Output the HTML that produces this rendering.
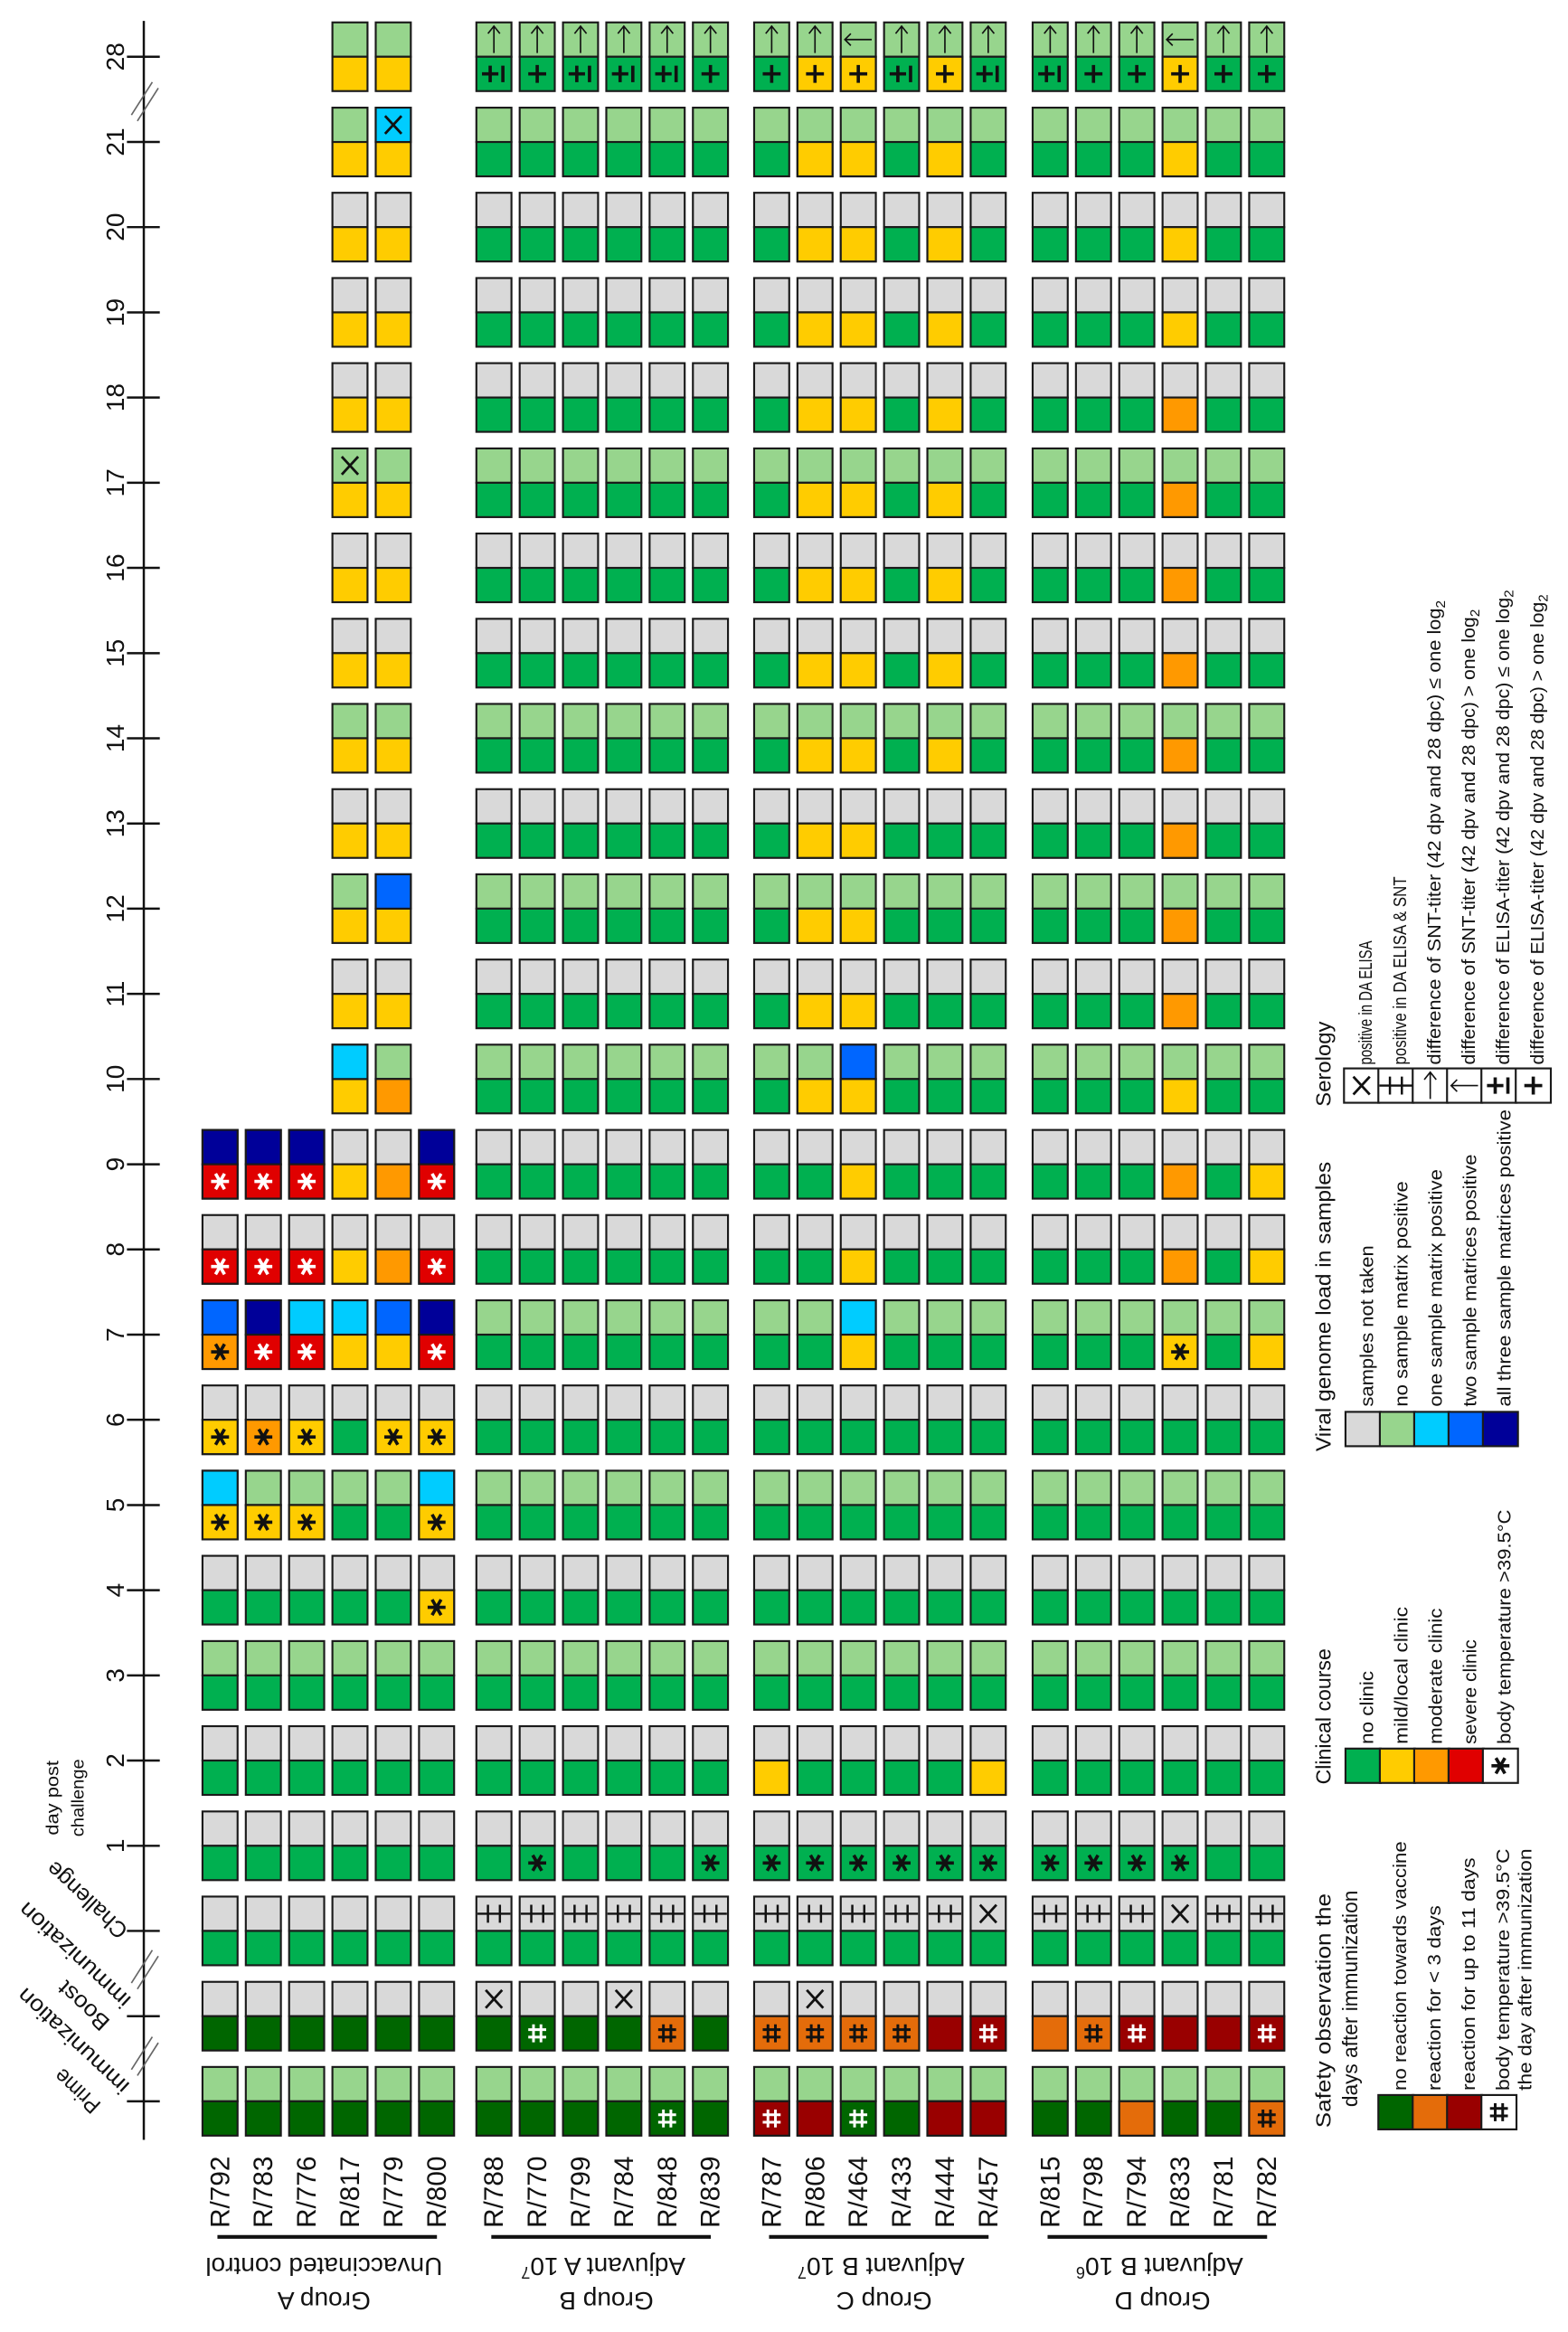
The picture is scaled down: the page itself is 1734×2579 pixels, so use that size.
<!DOCTYPE html>
<html><head><meta charset="utf-8"><style>
html,body{margin:0;padding:0;background:#fff}
svg{display:block}
.k{stroke:#1a1a1a;stroke-width:1.3}
.c{width:23.5px;height:23px}
text{font-family:"Liberation Sans",Arial,sans-serif;fill:#111}
.lg{font-size:12.5px}
.tt{font-size:14px}
</style></head><body>
<svg width="1734" height="2579" viewBox="0 0 1050 1561.7" preserveAspectRatio="none" xmlns="http://www.w3.org/2000/svg">
<defs>
<g id="T6"><rect class="k c" x="0" y="0"/><rect class="k c" x="29" y="0"/><rect class="k c" x="58" y="0"/><rect class="k c" x="87" y="0"/><rect class="k c" x="116" y="0"/><rect class="k c" x="145" y="0"/></g>
<g id="T2"><rect class="k c" x="0" y="0"/><rect class="k c" x="29" y="0"/></g>
<g id="sX" stroke="#111" stroke-width="1.7" fill="none"><path d="M-5.5,-6L5.5,6M5.5,-6L-5.5,6"/></g>
<g id="sDD" stroke="#111" stroke-width="1.5" fill="none"><path d="M-11,0H11M-4,-6V6M4,-6V6"/></g>
<g id="sUp" stroke="#111" stroke-width="1" fill="none"><path d="M0,9V-9M-4,-4L0,-9L4,-4"/></g>
<g id="sLf" stroke="#111" stroke-width="1" fill="none"><path d="M9,0H-9M-5,-4L-9,0L-5,4"/></g>
<g id="sPM" stroke="#111" stroke-width="2.2" fill="none"><path d="M-8,0H3M-2.5,-5.5V5.5M6,-5.5V5.5"/></g>
<g id="sP" stroke="#111" stroke-width="2.2" fill="none"><path d="M-6,0H6M0,-6V6"/></g>
<g id="sA" stroke="currentColor" stroke-width="2.2" fill="none"><path d="M-6,0H6M-3,-5.2L3,5.2M3,-5.2L-3,5.2"/></g>
<g id="sH" stroke="currentColor" stroke-width="1.8" fill="none"><path d="M-6,-2.5H6M-6,2.5H6M-2.5,-6V6M2.5,-6V6"/></g>
</defs>

<!-- axis -->
<line x1="96.3" y1="14" x2="96.3" y2="1433" stroke="#111" stroke-width="1.5"/>
<g stroke="#111" stroke-width="1.5">
<line x1="85" x2="107" y1="38" y2="38"/><line x1="85" x2="107" y1="95.1" y2="95.1"/><line x1="85" x2="107" y1="152.1" y2="152.1"/><line x1="85" x2="107" y1="209.2" y2="209.2"/><line x1="85" x2="107" y1="266.2" y2="266.2"/><line x1="85" x2="107" y1="323.3" y2="323.3"/><line x1="85" x2="107" y1="380.3" y2="380.3"/><line x1="85" x2="107" y1="437.4" y2="437.4"/><line x1="85" x2="107" y1="494.4" y2="494.4"/><line x1="85" x2="107" y1="551.5" y2="551.5"/><line x1="85" x2="107" y1="608.5" y2="608.5"/><line x1="85" x2="107" y1="665.6" y2="665.6"/><line x1="85" x2="107" y1="722.6" y2="722.6"/><line x1="85" x2="107" y1="779.7" y2="779.7"/><line x1="85" x2="107" y1="836.7" y2="836.7"/><line x1="85" x2="107" y1="893.8" y2="893.8"/><line x1="85" x2="107" y1="950.8" y2="950.8"/><line x1="85" x2="107" y1="1007.9" y2="1007.9"/><line x1="85" x2="107" y1="1064.9" y2="1064.9"/><line x1="85" x2="107" y1="1122" y2="1122"/><line x1="85" x2="107" y1="1179" y2="1179"/><line x1="85" x2="107" y1="1236.1" y2="1236.1"/><line x1="85" x2="107" y1="1293.1" y2="1293.1"/><line x1="85" x2="107" y1="1350.2" y2="1350.2"/><line x1="85" x2="107" y1="1407.2" y2="1407.2"/>
</g>
<g stroke="#666" stroke-width="1">
<line x1="88" y1="77" x2="102" y2="55"/><line x1="92" y1="81" x2="106" y2="59"/>
<line x1="88" y1="1328" x2="102" y2="1306"/><line x1="92" y1="1332" x2="106" y2="1310"/>
<line x1="88" y1="1386" x2="102" y2="1364"/><line x1="92" y1="1390" x2="106" y2="1368"/>
</g>
<g font-size="17" text-anchor="middle">
<text transform="translate(83,38) rotate(-90)">28</text>
<text transform="translate(83,95.1) rotate(-90)">21</text>
<text transform="translate(83,152.1) rotate(-90)">20</text>
<text transform="translate(83,209.2) rotate(-90)">19</text>
<text transform="translate(83,266.2) rotate(-90)">18</text>
<text transform="translate(83,323.3) rotate(-90)">17</text>
<text transform="translate(83,380.3) rotate(-90)">16</text>
<text transform="translate(83,437.4) rotate(-90)">15</text>
<text transform="translate(83,494.4) rotate(-90)">14</text>
<text transform="translate(83,551.5) rotate(-90)">13</text>
<text transform="translate(83,608.5) rotate(-90)">12</text>
<text transform="translate(83,665.6) rotate(-90)">11</text>
<text transform="translate(83,722.6) rotate(-90)">10</text>
<text transform="translate(83,779.7) rotate(-90)">9</text>
<text transform="translate(83,836.7) rotate(-90)">8</text>
<text transform="translate(83,893.8) rotate(-90)">7</text>
<text transform="translate(83,950.8) rotate(-90)">6</text>
<text transform="translate(83,1007.9) rotate(-90)">5</text>
<text transform="translate(83,1064.9) rotate(-90)">4</text>
<text transform="translate(83,1122) rotate(-90)">3</text>
<text transform="translate(83,1179) rotate(-90)">2</text>
<text transform="translate(83,1236.1) rotate(-90)">1</text>
</g>
<g font-size="12" text-anchor="middle" fill="#222">
<text transform="translate(39,1204) rotate(-90)" textLength="50" lengthAdjust="spacingAndGlyphs">day post</text>
<text transform="translate(56,1204) rotate(-90)" textLength="52" lengthAdjust="spacingAndGlyphs">challenge</text>
</g>
<g font-size="15">
<text transform="translate(86.5,1291.9) rotate(-137)" textLength="68" lengthAdjust="spacingAndGlyphs">Challenge</text>
<text transform="translate(88.5,1338.4) rotate(-137)" textLength="96" lengthAdjust="spacingAndGlyphs">immunization</text>
<text transform="translate(74.4,1353.5) rotate(-137)" textLength="41" lengthAdjust="spacingAndGlyphs">Boost</text>
<text transform="translate(87.5,1395.9) rotate(-137)" textLength="96" lengthAdjust="spacingAndGlyphs">immunization</text>
<text transform="translate(68.3,1408.9) rotate(-137)" textLength="36" lengthAdjust="spacingAndGlyphs">Prime</text>
</g>

<!-- ROW 0 day 28 -->
<use href="#T2" x="222.6" y="15" fill="#97d58d"/><use href="#T2" x="222.6" y="38" fill="#ffcc00"/>
<use href="#T6" x="319" y="15" fill="#97d58d"/><use href="#T6" x="319" y="38" fill="#00b050"/>
<use href="#T6" x="505" y="15" fill="#97d58d"/><use href="#T6" x="505" y="38" fill="#00b050"/>
<use href="#T6" x="691.5" y="15" fill="#97d58d"/><use href="#T6" x="691.5" y="38" fill="#00b050"/>
<rect class="k c" x="534" y="38" fill="#ffcc00"/><rect class="k c" x="563" y="38" fill="#ffcc00"/><rect class="k c" x="621" y="38" fill="#ffcc00"/><rect class="k c" x="778.5" y="38" fill="#ffcc00"/>
<use href="#sUp" x="330.75" y="26.5"/><use href="#sUp" x="359.75" y="26.5"/><use href="#sUp" x="388.75" y="26.5"/><use href="#sUp" x="417.75" y="26.5"/><use href="#sUp" x="446.75" y="26.5"/><use href="#sUp" x="475.75" y="26.5"/>
<use href="#sUp" x="516.75" y="26.5"/><use href="#sUp" x="545.75" y="26.5"/><use href="#sLf" x="574.75" y="26.5"/><use href="#sUp" x="603.75" y="26.5"/><use href="#sUp" x="632.75" y="26.5"/><use href="#sUp" x="661.75" y="26.5"/>
<use href="#sUp" x="703.25" y="26.5"/><use href="#sUp" x="732.25" y="26.5"/><use href="#sUp" x="761.25" y="26.5"/><use href="#sLf" x="790.25" y="26.5"/><use href="#sUp" x="819.25" y="26.5"/><use href="#sUp" x="848.25" y="26.5"/>
<use href="#sPM" x="330.75" y="49.5"/><use href="#sP" x="359.75" y="49.5"/><use href="#sPM" x="388.75" y="49.5"/><use href="#sPM" x="417.75" y="49.5"/><use href="#sPM" x="446.75" y="49.5"/><use href="#sP" x="475.75" y="49.5"/>
<use href="#sP" x="516.75" y="49.5"/><use href="#sP" x="545.75" y="49.5"/><use href="#sP" x="574.75" y="49.5"/><use href="#sPM" x="603.75" y="49.5"/><use href="#sP" x="632.75" y="49.5"/><use href="#sPM" x="661.75" y="49.5"/>
<use href="#sPM" x="703.25" y="49.5"/><use href="#sP" x="732.25" y="49.5"/><use href="#sP" x="761.25" y="49.5"/><use href="#sP" x="790.25" y="49.5"/><use href="#sP" x="819.25" y="49.5"/><use href="#sP" x="848.25" y="49.5"/>

<!-- ROW 1 day 21 -->
<use href="#T2" x="222.6" y="72.1" fill="#97d58d"/><use href="#T2" x="222.6" y="95.1" fill="#ffcc00"/>
<rect class="k c" x="251.6" y="72.1" fill="#00ccff"/><use href="#sX" x="263.35" y="83.6"/>
<use href="#T6" x="319" y="72.1" fill="#97d58d"/><use href="#T6" x="319" y="95.1" fill="#00b050"/>
<use href="#T6" x="505" y="72.1" fill="#97d58d"/><use href="#T6" x="505" y="95.1" fill="#00b050"/>
<use href="#T6" x="691.5" y="72.1" fill="#97d58d"/><use href="#T6" x="691.5" y="95.1" fill="#00b050"/>
<rect class="k c" x="534" y="95.1" fill="#ffcc00"/><rect class="k c" x="563" y="95.1" fill="#ffcc00"/><rect class="k c" x="621" y="95.1" fill="#ffcc00"/><rect class="k c" x="778.5" y="95.1" fill="#ffcc00"/>

<!-- ROW 2 day 20 -->
<use href="#T2" x="222.6" y="129.1" fill="#d9d9d9"/><use href="#T2" x="222.6" y="152.1" fill="#ffcc00"/>
<use href="#T6" x="319" y="129.1" fill="#d9d9d9"/><use href="#T6" x="319" y="152.1" fill="#00b050"/>
<use href="#T6" x="505" y="129.1" fill="#d9d9d9"/><use href="#T6" x="505" y="152.1" fill="#00b050"/>
<use href="#T6" x="691.5" y="129.1" fill="#d9d9d9"/><use href="#T6" x="691.5" y="152.1" fill="#00b050"/>
<rect class="k c" x="534" y="152.1" fill="#ffcc00"/><rect class="k c" x="563" y="152.1" fill="#ffcc00"/><rect class="k c" x="621" y="152.1" fill="#ffcc00"/><rect class="k c" x="778.5" y="152.1" fill="#ffcc00"/>

<!-- ROW 3 day 19 -->
<use href="#T2" x="222.6" y="186.2" fill="#d9d9d9"/><use href="#T2" x="222.6" y="209.2" fill="#ffcc00"/>
<use href="#T6" x="319" y="186.2" fill="#d9d9d9"/><use href="#T6" x="319" y="209.2" fill="#00b050"/>
<use href="#T6" x="505" y="186.2" fill="#d9d9d9"/><use href="#T6" x="505" y="209.2" fill="#00b050"/>
<use href="#T6" x="691.5" y="186.2" fill="#d9d9d9"/><use href="#T6" x="691.5" y="209.2" fill="#00b050"/>
<rect class="k c" x="534" y="209.2" fill="#ffcc00"/><rect class="k c" x="563" y="209.2" fill="#ffcc00"/><rect class="k c" x="621" y="209.2" fill="#ffcc00"/><rect class="k c" x="778.5" y="209.2" fill="#ffcc00"/>

<!-- ROW 4 day 18 -->
<use href="#T2" x="222.6" y="243.2" fill="#d9d9d9"/><use href="#T2" x="222.6" y="266.2" fill="#ffcc00"/>
<use href="#T6" x="319" y="243.2" fill="#d9d9d9"/><use href="#T6" x="319" y="266.2" fill="#00b050"/>
<use href="#T6" x="505" y="243.2" fill="#d9d9d9"/><use href="#T6" x="505" y="266.2" fill="#00b050"/>
<use href="#T6" x="691.5" y="243.2" fill="#d9d9d9"/><use href="#T6" x="691.5" y="266.2" fill="#00b050"/>
<rect class="k c" x="534" y="266.2" fill="#ffcc00"/><rect class="k c" x="563" y="266.2" fill="#ffcc00"/><rect class="k c" x="621" y="266.2" fill="#ffcc00"/><rect class="k c" x="778.5" y="266.2" fill="#ff9900"/>

<!-- ROW 5 day 17 -->
<use href="#T2" x="222.6" y="300.3" fill="#97d58d"/><use href="#T2" x="222.6" y="323.3" fill="#ffcc00"/>
<use href="#sX" x="234.35" y="311.8"/>
<use href="#T6" x="319" y="300.3" fill="#97d58d"/><use href="#T6" x="319" y="323.3" fill="#00b050"/>
<use href="#T6" x="505" y="300.3" fill="#97d58d"/><use href="#T6" x="505" y="323.3" fill="#00b050"/>
<use href="#T6" x="691.5" y="300.3" fill="#97d58d"/><use href="#T6" x="691.5" y="323.3" fill="#00b050"/>
<rect class="k c" x="534" y="323.3" fill="#ffcc00"/><rect class="k c" x="563" y="323.3" fill="#ffcc00"/><rect class="k c" x="621" y="323.3" fill="#ffcc00"/><rect class="k c" x="778.5" y="323.3" fill="#ff9900"/>

<!-- ROW 6 day 16 -->
<use href="#T2" x="222.6" y="357.3" fill="#d9d9d9"/><use href="#T2" x="222.6" y="380.3" fill="#ffcc00"/>
<use href="#T6" x="319" y="357.3" fill="#d9d9d9"/><use href="#T6" x="319" y="380.3" fill="#00b050"/>
<use href="#T6" x="505" y="357.3" fill="#d9d9d9"/><use href="#T6" x="505" y="380.3" fill="#00b050"/>
<use href="#T6" x="691.5" y="357.3" fill="#d9d9d9"/><use href="#T6" x="691.5" y="380.3" fill="#00b050"/>
<rect class="k c" x="534" y="380.3" fill="#ffcc00"/><rect class="k c" x="563" y="380.3" fill="#ffcc00"/><rect class="k c" x="621" y="380.3" fill="#ffcc00"/><rect class="k c" x="778.5" y="380.3" fill="#ff9900"/>

<!-- ROW 7 day 15 -->
<use href="#T2" x="222.6" y="414.4" fill="#d9d9d9"/><use href="#T2" x="222.6" y="437.4" fill="#ffcc00"/>
<use href="#T6" x="319" y="414.4" fill="#d9d9d9"/><use href="#T6" x="319" y="437.4" fill="#00b050"/>
<use href="#T6" x="505" y="414.4" fill="#d9d9d9"/><use href="#T6" x="505" y="437.4" fill="#00b050"/>
<use href="#T6" x="691.5" y="414.4" fill="#d9d9d9"/><use href="#T6" x="691.5" y="437.4" fill="#00b050"/>
<rect class="k c" x="534" y="437.4" fill="#ffcc00"/><rect class="k c" x="563" y="437.4" fill="#ffcc00"/><rect class="k c" x="621" y="437.4" fill="#ffcc00"/><rect class="k c" x="778.5" y="437.4" fill="#ff9900"/>

<!-- ROW 8 day 14 -->
<use href="#T2" x="222.6" y="471.4" fill="#97d58d"/><use href="#T2" x="222.6" y="494.4" fill="#ffcc00"/>
<use href="#T6" x="319" y="471.4" fill="#97d58d"/><use href="#T6" x="319" y="494.4" fill="#00b050"/>
<use href="#T6" x="505" y="471.4" fill="#97d58d"/><use href="#T6" x="505" y="494.4" fill="#00b050"/>
<use href="#T6" x="691.5" y="471.4" fill="#97d58d"/><use href="#T6" x="691.5" y="494.4" fill="#00b050"/>
<rect class="k c" x="534" y="494.4" fill="#ffcc00"/><rect class="k c" x="563" y="494.4" fill="#ffcc00"/><rect class="k c" x="621" y="494.4" fill="#ffcc00"/><rect class="k c" x="778.5" y="494.4" fill="#ff9900"/>

<!-- ROW 9 day 13 -->
<use href="#T2" x="222.6" y="528.5" fill="#d9d9d9"/><use href="#T2" x="222.6" y="551.5" fill="#ffcc00"/>
<use href="#T6" x="319" y="528.5" fill="#d9d9d9"/><use href="#T6" x="319" y="551.5" fill="#00b050"/>
<use href="#T6" x="505" y="528.5" fill="#d9d9d9"/><use href="#T6" x="505" y="551.5" fill="#00b050"/>
<use href="#T6" x="691.5" y="528.5" fill="#d9d9d9"/><use href="#T6" x="691.5" y="551.5" fill="#00b050"/>
<rect class="k c" x="534" y="551.5" fill="#ffcc00"/><rect class="k c" x="563" y="551.5" fill="#ffcc00"/><rect class="k c" x="778.5" y="551.5" fill="#ff9900"/>

<!-- ROW 10 day 12 -->
<use href="#T2" x="222.6" y="585.5" fill="#97d58d"/><use href="#T2" x="222.6" y="608.5" fill="#ffcc00"/>
<rect class="k c" x="251.6" y="585.5" fill="#0066ff"/>
<use href="#T6" x="319" y="585.5" fill="#97d58d"/><use href="#T6" x="319" y="608.5" fill="#00b050"/>
<use href="#T6" x="505" y="585.5" fill="#97d58d"/><use href="#T6" x="505" y="608.5" fill="#00b050"/>
<use href="#T6" x="691.5" y="585.5" fill="#97d58d"/><use href="#T6" x="691.5" y="608.5" fill="#00b050"/>
<rect class="k c" x="534" y="608.5" fill="#ffcc00"/><rect class="k c" x="563" y="608.5" fill="#ffcc00"/><rect class="k c" x="778.5" y="608.5" fill="#ff9900"/>

<!-- ROW 11 day 11 -->
<use href="#T2" x="222.6" y="642.6" fill="#d9d9d9"/><use href="#T2" x="222.6" y="665.6" fill="#ffcc00"/>
<use href="#T6" x="319" y="642.6" fill="#d9d9d9"/><use href="#T6" x="319" y="665.6" fill="#00b050"/>
<use href="#T6" x="505" y="642.6" fill="#d9d9d9"/><use href="#T6" x="505" y="665.6" fill="#00b050"/>
<use href="#T6" x="691.5" y="642.6" fill="#d9d9d9"/><use href="#T6" x="691.5" y="665.6" fill="#00b050"/>
<rect class="k c" x="534" y="665.6" fill="#ffcc00"/><rect class="k c" x="563" y="665.6" fill="#ffcc00"/><rect class="k c" x="778.5" y="665.6" fill="#ff9900"/>

<!-- ROW 12 day 10 -->
<use href="#T2" x="222.6" y="699.6" fill="#97d58d"/><use href="#T2" x="222.6" y="722.6" fill="#ffcc00"/>
<rect class="k c" x="222.6" y="699.6" fill="#00ccff"/><rect class="k c" x="251.6" y="722.6" fill="#ff9900"/>
<use href="#T6" x="319" y="699.6" fill="#97d58d"/><use href="#T6" x="319" y="722.6" fill="#00b050"/>
<use href="#T6" x="505" y="699.6" fill="#97d58d"/><use href="#T6" x="505" y="722.6" fill="#00b050"/>
<use href="#T6" x="691.5" y="699.6" fill="#97d58d"/><use href="#T6" x="691.5" y="722.6" fill="#00b050"/>
<rect class="k c" x="563" y="699.6" fill="#0066ff"/>
<rect class="k c" x="534" y="722.6" fill="#ffcc00"/><rect class="k c" x="563" y="722.6" fill="#ffcc00"/><rect class="k c" x="778.5" y="722.6" fill="#ffcc00"/>

<!-- ROW 13 day 9 -->
<use href="#T6" x="135.6" y="756.7" fill="#d9d9d9"/><use href="#T6" x="135.6" y="779.7" fill="#00b050"/>
<rect class="k c" x="135.6" y="756.7" fill="#000099"/><rect class="k c" x="164.6" y="756.7" fill="#000099"/><rect class="k c" x="193.6" y="756.7" fill="#000099"/><rect class="k c" x="280.6" y="756.7" fill="#000099"/>
<rect class="k c" x="135.6" y="779.7" fill="#e00000"/><rect class="k c" x="164.6" y="779.7" fill="#e00000"/><rect class="k c" x="193.6" y="779.7" fill="#e00000"/><rect class="k c" x="222.6" y="779.7" fill="#ffcc00"/><rect class="k c" x="251.6" y="779.7" fill="#ff9900"/><rect class="k c" x="280.6" y="779.7" fill="#e00000"/>
<use href="#sA" x="147.35" y="791.2" color="#fff"/><use href="#sA" x="176.35" y="791.2" color="#fff"/><use href="#sA" x="205.35" y="791.2" color="#fff"/><use href="#sA" x="292.35" y="791.2" color="#fff"/>
<use href="#T6" x="319" y="756.7" fill="#d9d9d9"/><use href="#T6" x="319" y="779.7" fill="#00b050"/>
<use href="#T6" x="505" y="756.7" fill="#d9d9d9"/><use href="#T6" x="505" y="779.7" fill="#00b050"/>
<use href="#T6" x="691.5" y="756.7" fill="#d9d9d9"/><use href="#T6" x="691.5" y="779.7" fill="#00b050"/>
<rect class="k c" x="563" y="779.7" fill="#ffcc00"/><rect class="k c" x="778.5" y="779.7" fill="#ff9900"/><rect class="k c" x="836.5" y="779.7" fill="#ffcc00"/>

<!-- ROW 14 day 8 -->
<use href="#T6" x="135.6" y="813.7" fill="#d9d9d9"/><use href="#T6" x="135.6" y="836.7" fill="#00b050"/>
<rect class="k c" x="135.6" y="836.7" fill="#e00000"/><rect class="k c" x="164.6" y="836.7" fill="#e00000"/><rect class="k c" x="193.6" y="836.7" fill="#e00000"/><rect class="k c" x="222.6" y="836.7" fill="#ffcc00"/><rect class="k c" x="251.6" y="836.7" fill="#ff9900"/><rect class="k c" x="280.6" y="836.7" fill="#e00000"/>
<use href="#sA" x="147.35" y="848.2" color="#fff"/><use href="#sA" x="176.35" y="848.2" color="#fff"/><use href="#sA" x="205.35" y="848.2" color="#fff"/><use href="#sA" x="292.35" y="848.2" color="#fff"/>
<use href="#T6" x="319" y="813.7" fill="#d9d9d9"/><use href="#T6" x="319" y="836.7" fill="#00b050"/>
<use href="#T6" x="505" y="813.7" fill="#d9d9d9"/><use href="#T6" x="505" y="836.7" fill="#00b050"/>
<use href="#T6" x="691.5" y="813.7" fill="#d9d9d9"/><use href="#T6" x="691.5" y="836.7" fill="#00b050"/>
<rect class="k c" x="563" y="836.7" fill="#ffcc00"/><rect class="k c" x="778.5" y="836.7" fill="#ff9900"/><rect class="k c" x="836.5" y="836.7" fill="#ffcc00"/>

<!-- ROW 15 day 7 -->
<use href="#T6" x="135.6" y="870.8" fill="#97d58d"/><use href="#T6" x="135.6" y="893.8" fill="#00b050"/>
<rect class="k c" x="135.6" y="870.8" fill="#0066ff"/><rect class="k c" x="164.6" y="870.8" fill="#000099"/><rect class="k c" x="193.6" y="870.8" fill="#00ccff"/><rect class="k c" x="222.6" y="870.8" fill="#00ccff"/><rect class="k c" x="251.6" y="870.8" fill="#0066ff"/><rect class="k c" x="280.6" y="870.8" fill="#000099"/>
<rect class="k c" x="135.6" y="893.8" fill="#ff9900"/><rect class="k c" x="164.6" y="893.8" fill="#e00000"/><rect class="k c" x="193.6" y="893.8" fill="#e00000"/><rect class="k c" x="222.6" y="893.8" fill="#ffcc00"/><rect class="k c" x="251.6" y="893.8" fill="#ffcc00"/><rect class="k c" x="280.6" y="893.8" fill="#e00000"/>
<use href="#sA" x="147.35" y="905.3" color="#111"/><use href="#sA" x="176.35" y="905.3" color="#fff"/><use href="#sA" x="205.35" y="905.3" color="#fff"/><use href="#sA" x="292.35" y="905.3" color="#fff"/>
<use href="#T6" x="319" y="870.8" fill="#97d58d"/><use href="#T6" x="319" y="893.8" fill="#00b050"/>
<use href="#T6" x="505" y="870.8" fill="#97d58d"/><use href="#T6" x="505" y="893.8" fill="#00b050"/>
<use href="#T6" x="691.5" y="870.8" fill="#97d58d"/><use href="#T6" x="691.5" y="893.8" fill="#00b050"/>
<rect class="k c" x="563" y="870.8" fill="#00ccff"/><rect class="k c" x="563" y="893.8" fill="#ffcc00"/>
<rect class="k c" x="778.5" y="893.8" fill="#ffcc00"/><rect class="k c" x="836.5" y="893.8" fill="#ffcc00"/>
<use href="#sA" x="790.25" y="905.3" color="#111"/>

<!-- ROW 16 day 6 -->
<use href="#T6" x="135.6" y="927.8" fill="#d9d9d9"/><use href="#T6" x="135.6" y="950.8" fill="#00b050"/>
<rect class="k c" x="135.6" y="950.8" fill="#ffcc00"/><rect class="k c" x="164.6" y="950.8" fill="#ff9900"/><rect class="k c" x="193.6" y="950.8" fill="#ffcc00"/><rect class="k c" x="251.6" y="950.8" fill="#ffcc00"/><rect class="k c" x="280.6" y="950.8" fill="#ffcc00"/>
<use href="#sA" x="147.35" y="962.3" color="#111"/><use href="#sA" x="176.35" y="962.3" color="#111"/><use href="#sA" x="205.35" y="962.3" color="#111"/><use href="#sA" x="263.35" y="962.3" color="#111"/><use href="#sA" x="292.35" y="962.3" color="#111"/>
<use href="#T6" x="319" y="927.8" fill="#d9d9d9"/><use href="#T6" x="319" y="950.8" fill="#00b050"/>
<use href="#T6" x="505" y="927.8" fill="#d9d9d9"/><use href="#T6" x="505" y="950.8" fill="#00b050"/>
<use href="#T6" x="691.5" y="927.8" fill="#d9d9d9"/><use href="#T6" x="691.5" y="950.8" fill="#00b050"/>

<!-- ROW 17 day 5 -->
<use href="#T6" x="135.6" y="984.9" fill="#97d58d"/><use href="#T6" x="135.6" y="1007.9" fill="#00b050"/>
<rect class="k c" x="135.6" y="984.9" fill="#00ccff"/><rect class="k c" x="280.6" y="984.9" fill="#00ccff"/>
<rect class="k c" x="135.6" y="1007.9" fill="#ffcc00"/><rect class="k c" x="164.6" y="1007.9" fill="#ffcc00"/><rect class="k c" x="193.6" y="1007.9" fill="#ffcc00"/><rect class="k c" x="280.6" y="1007.9" fill="#ffcc00"/>
<use href="#sA" x="147.35" y="1019.4" color="#111"/><use href="#sA" x="176.35" y="1019.4" color="#111"/><use href="#sA" x="205.35" y="1019.4" color="#111"/><use href="#sA" x="292.35" y="1019.4" color="#111"/>
<use href="#T6" x="319" y="984.9" fill="#97d58d"/><use href="#T6" x="319" y="1007.9" fill="#00b050"/>
<use href="#T6" x="505" y="984.9" fill="#97d58d"/><use href="#T6" x="505" y="1007.9" fill="#00b050"/>
<use href="#T6" x="691.5" y="984.9" fill="#97d58d"/><use href="#T6" x="691.5" y="1007.9" fill="#00b050"/>

<!-- ROW 18 day 4 -->
<use href="#T6" x="135.6" y="1041.9" fill="#d9d9d9"/><use href="#T6" x="135.6" y="1064.9" fill="#00b050"/>
<rect class="k c" x="280.6" y="1064.9" fill="#ffcc00"/><use href="#sA" x="292.35" y="1076.4" color="#111"/>
<use href="#T6" x="319" y="1041.9" fill="#d9d9d9"/><use href="#T6" x="319" y="1064.9" fill="#00b050"/>
<use href="#T6" x="505" y="1041.9" fill="#d9d9d9"/><use href="#T6" x="505" y="1064.9" fill="#00b050"/>
<use href="#T6" x="691.5" y="1041.9" fill="#d9d9d9"/><use href="#T6" x="691.5" y="1064.9" fill="#00b050"/>

<!-- ROW 19 day 3 -->
<use href="#T6" x="135.6" y="1099" fill="#97d58d"/><use href="#T6" x="135.6" y="1122" fill="#00b050"/>
<use href="#T6" x="319" y="1099" fill="#97d58d"/><use href="#T6" x="319" y="1122" fill="#00b050"/>
<use href="#T6" x="505" y="1099" fill="#97d58d"/><use href="#T6" x="505" y="1122" fill="#00b050"/>
<use href="#T6" x="691.5" y="1099" fill="#97d58d"/><use href="#T6" x="691.5" y="1122" fill="#00b050"/>

<!-- ROW 20 day 2 -->
<use href="#T6" x="135.6" y="1156" fill="#d9d9d9"/><use href="#T6" x="135.6" y="1179" fill="#00b050"/>
<use href="#T6" x="319" y="1156" fill="#d9d9d9"/><use href="#T6" x="319" y="1179" fill="#00b050"/>
<use href="#T6" x="505" y="1156" fill="#d9d9d9"/><use href="#T6" x="505" y="1179" fill="#00b050"/>
<use href="#T6" x="691.5" y="1156" fill="#d9d9d9"/><use href="#T6" x="691.5" y="1179" fill="#00b050"/>
<rect class="k c" x="505" y="1179" fill="#ffcc00"/><rect class="k c" x="650" y="1179" fill="#ffcc00"/>

<!-- ROW 21 day 1 -->
<use href="#T6" x="135.6" y="1213.1" fill="#d9d9d9"/><use href="#T6" x="135.6" y="1236.1" fill="#00b050"/>
<use href="#T6" x="319" y="1213.1" fill="#d9d9d9"/><use href="#T6" x="319" y="1236.1" fill="#00b050"/>
<use href="#T6" x="505" y="1213.1" fill="#d9d9d9"/><use href="#T6" x="505" y="1236.1" fill="#00b050"/>
<use href="#T6" x="691.5" y="1213.1" fill="#d9d9d9"/><use href="#T6" x="691.5" y="1236.1" fill="#00b050"/>
<g color="#111">
<use href="#sA" x="359.75" y="1247.6"/><use href="#sA" x="475.75" y="1247.6"/>
<use href="#sA" x="516.75" y="1247.6"/><use href="#sA" x="545.75" y="1247.6"/><use href="#sA" x="574.75" y="1247.6"/><use href="#sA" x="603.75" y="1247.6"/><use href="#sA" x="632.75" y="1247.6"/><use href="#sA" x="661.75" y="1247.6"/>
<use href="#sA" x="703.25" y="1247.6"/><use href="#sA" x="732.25" y="1247.6"/><use href="#sA" x="761.25" y="1247.6"/><use href="#sA" x="790.25" y="1247.6"/>
</g>

<!-- ROW 22 Challenge -->
<use href="#T6" x="135.6" y="1270.1" fill="#d9d9d9"/><use href="#T6" x="135.6" y="1293.1" fill="#00b050"/>
<use href="#T6" x="319" y="1270.1" fill="#d9d9d9"/><use href="#T6" x="319" y="1293.1" fill="#00b050"/>
<use href="#T6" x="505" y="1270.1" fill="#d9d9d9"/><use href="#T6" x="505" y="1293.1" fill="#00b050"/>
<use href="#T6" x="691.5" y="1270.1" fill="#d9d9d9"/><use href="#T6" x="691.5" y="1293.1" fill="#00b050"/>
<use href="#sDD" x="330.75" y="1281.6"/><use href="#sDD" x="359.75" y="1281.6"/><use href="#sDD" x="388.75" y="1281.6"/><use href="#sDD" x="417.75" y="1281.6"/><use href="#sDD" x="446.75" y="1281.6"/><use href="#sDD" x="475.75" y="1281.6"/>
<use href="#sDD" x="516.75" y="1281.6"/><use href="#sDD" x="545.75" y="1281.6"/><use href="#sDD" x="574.75" y="1281.6"/><use href="#sDD" x="603.75" y="1281.6"/><use href="#sDD" x="632.75" y="1281.6"/><use href="#sX" x="661.75" y="1281.6"/>
<use href="#sDD" x="703.25" y="1281.6"/><use href="#sDD" x="732.25" y="1281.6"/><use href="#sDD" x="761.25" y="1281.6"/><use href="#sX" x="790.25" y="1281.6"/><use href="#sDD" x="819.25" y="1281.6"/><use href="#sDD" x="848.25" y="1281.6"/>

<!-- ROW 23 Boost -->
<use href="#T6" x="135.6" y="1327.2" fill="#d9d9d9"/><use href="#T6" x="135.6" y="1350.2" fill="#006600"/>
<use href="#T6" x="319" y="1327.2" fill="#d9d9d9"/><use href="#T6" x="319" y="1350.2" fill="#006600"/>
<use href="#T6" x="505" y="1327.2" fill="#d9d9d9"/><use href="#T6" x="505" y="1350.2" fill="#006600"/>
<use href="#T6" x="691.5" y="1327.2" fill="#d9d9d9"/><use href="#T6" x="691.5" y="1350.2" fill="#006600"/>
<use href="#sX" x="330.75" y="1338.7"/><use href="#sX" x="417.75" y="1338.7"/><use href="#sX" x="545.75" y="1338.7"/>
<rect class="k c" x="435" y="1350.2" fill="#e46c0a"/>
<rect class="k c" x="505" y="1350.2" fill="#e46c0a"/><rect class="k c" x="534" y="1350.2" fill="#e46c0a"/><rect class="k c" x="563" y="1350.2" fill="#e46c0a"/><rect class="k c" x="592" y="1350.2" fill="#e46c0a"/><rect class="k c" x="621" y="1350.2" fill="#990000"/><rect class="k c" x="650" y="1350.2" fill="#990000"/>
<rect class="k c" x="691.5" y="1350.2" fill="#e46c0a"/><rect class="k c" x="720.5" y="1350.2" fill="#e46c0a"/><rect class="k c" x="749.5" y="1350.2" fill="#990000"/><rect class="k c" x="778.5" y="1350.2" fill="#990000"/><rect class="k c" x="807.5" y="1350.2" fill="#990000"/><rect class="k c" x="836.5" y="1350.2" fill="#990000"/>
<use href="#sH" x="359.75" y="1361.7" color="#fff"/><use href="#sH" x="446.75" y="1361.7" color="#111"/>
<use href="#sH" x="516.75" y="1361.7" color="#111"/><use href="#sH" x="545.75" y="1361.7" color="#111"/><use href="#sH" x="574.75" y="1361.7" color="#111"/><use href="#sH" x="603.75" y="1361.7" color="#111"/><use href="#sH" x="661.75" y="1361.7" color="#fff"/>
<use href="#sH" x="732.25" y="1361.7" color="#111"/><use href="#sH" x="761.25" y="1361.7" color="#fff"/><use href="#sH" x="848.25" y="1361.7" color="#fff"/>

<!-- ROW 24 Prime -->
<use href="#T6" x="135.6" y="1384.2" fill="#97d58d"/><use href="#T6" x="135.6" y="1407.2" fill="#006600"/>
<use href="#T6" x="319" y="1384.2" fill="#97d58d"/><use href="#T6" x="319" y="1407.2" fill="#006600"/>
<use href="#T6" x="505" y="1384.2" fill="#97d58d"/><use href="#T6" x="505" y="1407.2" fill="#006600"/>
<use href="#T6" x="691.5" y="1384.2" fill="#97d58d"/><use href="#T6" x="691.5" y="1407.2" fill="#006600"/>
<rect class="k c" x="505" y="1407.2" fill="#990000"/><rect class="k c" x="534" y="1407.2" fill="#990000"/><rect class="k c" x="621" y="1407.2" fill="#990000"/><rect class="k c" x="650" y="1407.2" fill="#990000"/>
<rect class="k c" x="749.5" y="1407.2" fill="#e46c0a"/><rect class="k c" x="836.5" y="1407.2" fill="#e46c0a"/>
<use href="#sH" x="446.75" y="1418.7" color="#fff"/><use href="#sH" x="516.75" y="1418.7" color="#fff"/><use href="#sH" x="574.75" y="1418.7" color="#fff"/><use href="#sH" x="848.25" y="1418.7" color="#111"/>

<!-- animal labels -->
<g font-size="18">
<text transform="translate(153.4,1492) rotate(-90)" textLength="48" lengthAdjust="spacingAndGlyphs">R/792</text>
<text transform="translate(182.4,1492) rotate(-90)" textLength="48" lengthAdjust="spacingAndGlyphs">R/783</text>
<text transform="translate(211.4,1492) rotate(-90)" textLength="48" lengthAdjust="spacingAndGlyphs">R/776</text>
<text transform="translate(240.4,1492) rotate(-90)" textLength="48" lengthAdjust="spacingAndGlyphs">R/817</text>
<text transform="translate(269.4,1492) rotate(-90)" textLength="48" lengthAdjust="spacingAndGlyphs">R/779</text>
<text transform="translate(298.4,1492) rotate(-90)" textLength="48" lengthAdjust="spacingAndGlyphs">R/800</text>
<text transform="translate(336.8,1492) rotate(-90)" textLength="48" lengthAdjust="spacingAndGlyphs">R/788</text>
<text transform="translate(365.8,1492) rotate(-90)" textLength="48" lengthAdjust="spacingAndGlyphs">R/770</text>
<text transform="translate(394.8,1492) rotate(-90)" textLength="48" lengthAdjust="spacingAndGlyphs">R/799</text>
<text transform="translate(423.8,1492) rotate(-90)" textLength="48" lengthAdjust="spacingAndGlyphs">R/784</text>
<text transform="translate(452.8,1492) rotate(-90)" textLength="48" lengthAdjust="spacingAndGlyphs">R/848</text>
<text transform="translate(481.8,1492) rotate(-90)" textLength="48" lengthAdjust="spacingAndGlyphs">R/839</text>
<text transform="translate(522.8,1492) rotate(-90)" textLength="48" lengthAdjust="spacingAndGlyphs">R/787</text>
<text transform="translate(551.8,1492) rotate(-90)" textLength="48" lengthAdjust="spacingAndGlyphs">R/806</text>
<text transform="translate(580.8,1492) rotate(-90)" textLength="48" lengthAdjust="spacingAndGlyphs">R/464</text>
<text transform="translate(609.8,1492) rotate(-90)" textLength="48" lengthAdjust="spacingAndGlyphs">R/433</text>
<text transform="translate(638.8,1492) rotate(-90)" textLength="48" lengthAdjust="spacingAndGlyphs">R/444</text>
<text transform="translate(667.8,1492) rotate(-90)" textLength="48" lengthAdjust="spacingAndGlyphs">R/457</text>
<text transform="translate(709.3,1492) rotate(-90)" textLength="48" lengthAdjust="spacingAndGlyphs">R/815</text>
<text transform="translate(738.3,1492) rotate(-90)" textLength="48" lengthAdjust="spacingAndGlyphs">R/798</text>
<text transform="translate(767.3,1492) rotate(-90)" textLength="48" lengthAdjust="spacingAndGlyphs">R/794</text>
<text transform="translate(796.3,1492) rotate(-90)" textLength="48" lengthAdjust="spacingAndGlyphs">R/833</text>
<text transform="translate(825.3,1492) rotate(-90)" textLength="48" lengthAdjust="spacingAndGlyphs">R/781</text>
<text transform="translate(854.3,1492) rotate(-90)" textLength="48" lengthAdjust="spacingAndGlyphs">R/782</text>
</g>
<g stroke="#111" stroke-width="2.5">
<line x1="145.6" x2="292.6" y1="1498" y2="1498"/>
<line x1="329" x2="476" y1="1498" y2="1498"/>
<line x1="515" x2="662" y1="1498" y2="1498"/>
<line x1="701.5" x2="848.5" y1="1498" y2="1498"/>
</g>
<g font-size="17" text-anchor="middle">
<text transform="translate(217,1512) rotate(180)">Unvaccinated control</text>
<text transform="translate(217,1535) rotate(180)">Group A</text>
<text transform="translate(404,1512) rotate(180)">Adjuvant A 10<tspan dy="-6" font-size="11">7</tspan></text>
<text transform="translate(406,1535) rotate(180)">Group B</text>
<text transform="translate(590,1512) rotate(180)">Adjuvant B 10<tspan dy="-6" font-size="11">7</tspan></text>
<text transform="translate(592,1535) rotate(180)">Group C</text>
<text transform="translate(776.5,1512) rotate(180)">Adjuvant B 10<tspan dy="-6" font-size="11">6</tspan></text>
<text transform="translate(778.5,1535) rotate(180)">Group D</text>
</g>

<!-- LEGEND: Serology -->
<text class="tt" transform="translate(891,741) rotate(-90)" textLength="57" lengthAdjust="spacingAndGlyphs">Serology</text>
<rect class="k c" x="900" y="715.5" fill="#fff"/><rect class="k c" x="923" y="715.5" fill="#fff"/><rect class="k c" x="946" y="715.5" fill="#fff"/><rect class="k c" x="969" y="715.5" fill="#fff"/><rect class="k c" x="992" y="715.5" fill="#fff"/><rect class="k c" x="1015" y="715.5" fill="#fff"/>
<use href="#sX" x="911.75" y="727"/>
<use href="#sDD" x="934.75" y="727"/>
<use href="#sUp" x="957.75" y="727"/>
<use href="#sLf" x="980.75" y="727"/>
<use href="#sPM" x="1003.75" y="727"/>
<use href="#sP" x="1026.75" y="727"/>
<g class="lg">
<text transform="translate(918.5,713) rotate(-90)" textLength="83" lengthAdjust="spacingAndGlyphs">positive in DA ELISA</text>
<text transform="translate(941.5,713) rotate(-90)" textLength="126" lengthAdjust="spacingAndGlyphs">positive in DA ELISA &amp; SNT</text>
<text transform="translate(964.5,713) rotate(-90)" textLength="311" lengthAdjust="spacingAndGlyphs">difference of SNT-titer (42 dpv and 28 dpc) ≤ one log<tspan dy="3" font-size="9">2</tspan></text>
<text transform="translate(987.5,713) rotate(-90)" textLength="305" lengthAdjust="spacingAndGlyphs">difference of SNT-titer (42 dpv and 28 dpc) &gt; one log<tspan dy="3" font-size="9">2</tspan></text>
<text transform="translate(1010.5,713) rotate(-90)" textLength="318" lengthAdjust="spacingAndGlyphs">difference of ELISA-titer (42 dpv and 28 dpc) ≤ one log<tspan dy="3" font-size="9">2</tspan></text>
<text transform="translate(1033.5,713) rotate(-90)" textLength="315" lengthAdjust="spacingAndGlyphs">difference of ELISA-titer (42 dpv and 28 dpc) &gt; one log<tspan dy="3" font-size="9">2</tspan></text>
</g>

<!-- LEGEND: Viral -->
<text class="tt" transform="translate(891,972) rotate(-90)" textLength="194" lengthAdjust="spacingAndGlyphs">Viral genome load in samples</text>
<rect class="k c" x="901" y="945.5" fill="#d9d9d9"/><rect class="k c" x="924" y="945.5" fill="#97d58d"/><rect class="k c" x="947" y="945.5" fill="#00ccff"/><rect class="k c" x="970" y="945.5" fill="#0066ff"/><rect class="k c" x="993" y="945.5" fill="#000099"/>
<g class="lg">
<text transform="translate(919.5,942) rotate(-90)" textLength="108" lengthAdjust="spacingAndGlyphs">samples not taken</text>
<text transform="translate(942.5,942) rotate(-90)" textLength="151" lengthAdjust="spacingAndGlyphs">no sample matrix positive</text>
<text transform="translate(965.5,942) rotate(-90)" textLength="159" lengthAdjust="spacingAndGlyphs">one sample matrix positive</text>
<text transform="translate(988.5,942) rotate(-90)" textLength="169" lengthAdjust="spacingAndGlyphs">two sample matrices positive</text>
<text transform="translate(1011.5,942) rotate(-90)" textLength="199" lengthAdjust="spacingAndGlyphs">all three sample matrices positive</text>
</g>

<!-- LEGEND: Clinical -->
<text class="tt" transform="translate(891,1195) rotate(-90)" textLength="91" lengthAdjust="spacingAndGlyphs">Clinical course</text>
<rect class="k c" x="901" y="1171" fill="#00b050"/><rect class="k c" x="924" y="1171" fill="#ffcc00"/><rect class="k c" x="947" y="1171" fill="#ff9900"/><rect class="k c" x="970" y="1171" fill="#e00000"/><rect class="k c" x="993" y="1171" fill="#fff"/>
<use href="#sA" x="1004.75" y="1182.5" color="#111"/>
<g class="lg">
<text transform="translate(919.5,1168) rotate(-90)" textLength="49" lengthAdjust="spacingAndGlyphs">no clinic</text>
<text transform="translate(942.5,1168) rotate(-90)" textLength="92" lengthAdjust="spacingAndGlyphs">mild/local clinic</text>
<text transform="translate(965.5,1168) rotate(-90)" textLength="91" lengthAdjust="spacingAndGlyphs">moderate clinic</text>
<text transform="translate(988.5,1168) rotate(-90)" textLength="70" lengthAdjust="spacingAndGlyphs">severe clinic</text>
<text transform="translate(1011.5,1168) rotate(-90)" textLength="157" lengthAdjust="spacingAndGlyphs">body temperature &gt;39.5°C</text>
</g>

<!-- LEGEND: Safety -->
<text class="tt" transform="translate(891,1425) rotate(-90)" textLength="157" lengthAdjust="spacingAndGlyphs">Safety observation the</text>
<text class="tt" transform="translate(909,1411) rotate(-90)" textLength="145" lengthAdjust="spacingAndGlyphs">days after immunization</text>
<rect class="k c" x="923" y="1403" fill="#006600"/><rect class="k c" x="946" y="1403" fill="#e46c0a"/><rect class="k c" x="969" y="1403" fill="#990000"/><rect class="k c" x="992" y="1403" fill="#fff"/>
<use href="#sH" x="1003.75" y="1414.5" color="#111"/>
<g class="lg">
<text transform="translate(941.5,1400) rotate(-90)" textLength="167" lengthAdjust="spacingAndGlyphs">no reaction towards vaccine</text>
<text transform="translate(964.5,1400) rotate(-90)" textLength="124" lengthAdjust="spacingAndGlyphs">reaction for &lt; 3 days</text>
<text transform="translate(987.5,1400) rotate(-90)" textLength="156" lengthAdjust="spacingAndGlyphs">reaction for up to 11 days</text>
<text transform="translate(1010.5,1400) rotate(-90)" textLength="162" lengthAdjust="spacingAndGlyphs">body temperature &gt;39.5°C</text>
<text transform="translate(1025.5,1400) rotate(-90)" textLength="162" lengthAdjust="spacingAndGlyphs">the day after immunization</text>
</g>
</svg>
</body></html>
